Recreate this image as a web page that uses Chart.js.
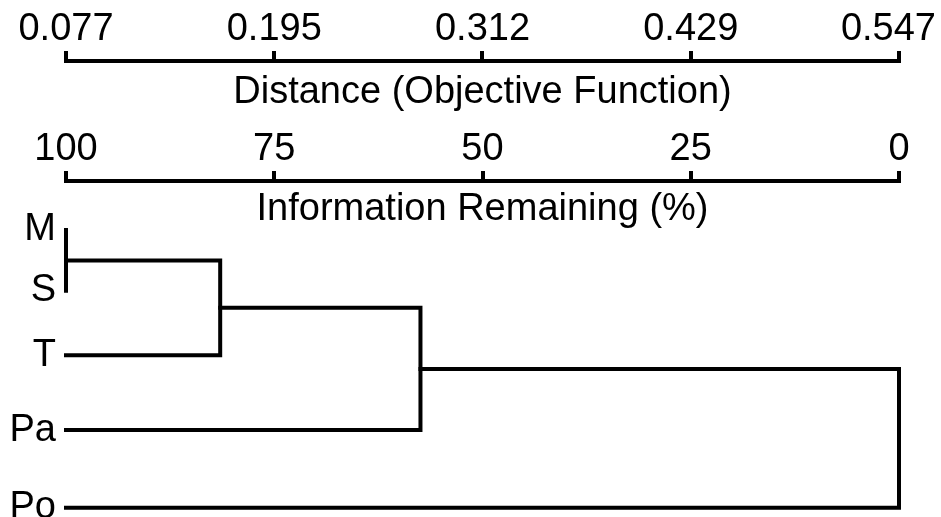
<!DOCTYPE html>
<html><head><meta charset="utf-8">
<script src="https://cdn.jsdelivr.net/npm/chart.js@4/dist/chart.umd.min.js"></script>
<style>html,body{margin:0;padding:0;background:#fff;} #wrap{width:941px;height:517px;position:relative;}</style>
</head><body><div id="wrap"><canvas id="c"></canvas></div>
<script>
// ---- data ----
const leafNames = ['M', 'S', 'T', 'Pa', 'Po'];
const leafPos = [0, 0.87, 1.79, 2.86, 3.97];          // leaf order positions (top -> bottom)
const mergeA = [0, 5, 6, 7];                            // cluster ids joined at each step
const mergeB = [1, 2, 3, 4];
const mergeDist = [0.077, 0.164, 0.277, 0.547];         // distance (objective function) of each join
const distTicks = [0.077, 0.1945, 0.312, 0.4295, 0.547];
const distTickLabels = ['0.077', '0.195', '0.312', '0.429', '0.547'];
const infoTicks = [100, 75, 50, 25, 0];
const infoTickLabels = ['100', '75', '50', '25', '0'];
const distTitle = 'Distance (Objective Function)';
const infoTitle = 'Information Remaining (%)';

const FONT = "'Liberation Sans', Arial, sans-serif";
const FSIZE = 38;
const distMin = distTicks[0], distMax = distTicks[distTicks.length - 1];

// build dendrogram brackets from the merge table
const clX = leafNames.map(() => distMin);
const clY = leafPos.slice();
const datasets = [];
mergeA.forEach((a, i) => {
  const b = mergeB[i], h = mergeDist[i];
  const pts = [{x: clX[a], y: clY[a]}, {x: h, y: clY[a]}, {x: h, y: clY[b]}, {x: clX[b], y: clY[b]}];
  const data = pts.filter((p, k) => k === 0 || p.x !== pts[k - 1].x || p.y !== pts[k - 1].y);
  clX.push(h); clY.push((clY[a] + clY[b]) / 2);
  datasets.push({
    data, showLine: true, borderColor: '#000', backgroundColor: '#000', borderWidth: 4,
    pointRadius: 0, pointHoverRadius: 0, tension: 0, clip: false,
    borderCapStyle: 'square', borderJoinStyle: 'miter', xAxisID: 'xDist', yAxisID: 'y'
  });
});

function fixFit(h, w) {
  return s => {
    s.paddingLeft = 0; s.paddingRight = 0; s.paddingTop = 0; s.paddingBottom = 0;
    if (h != null) s.height = h;
    if (w != null) s.width = w;
  };
}

const axisTitles = {
  id: 'axisTitles',
  afterDraw(chart) {
    const {ctx, chartArea} = chart;
    const cx = (chartArea.left + chartArea.right) / 2;
    ctx.save();
    ctx.font = FSIZE + 'px ' + FONT;
    ctx.fillStyle = '#000';
    ctx.textAlign = 'center';
    ctx.textBaseline = 'alphabetic';
    ctx.fillText(distTitle, cx, chart.scales.xDist.bottom + 42);
    ctx.fillText(infoTitle, cx, chart.scales.xInfo.bottom + 39);
    ctx.restore();
  }
};

const tickFont = {family: FONT, size: FSIZE, lineHeight: 1};
const axisGrid = {display: true, drawOnChartArea: false, drawTicks: true, tickLength: 10, lineWidth: 4, color: '#000'};
const axisBorder = {display: true, width: 4, color: '#000'};

new Chart(document.getElementById('c'), {
  type: 'scatter',
  data: {datasets},
  options: {
    responsive: true, maintainAspectRatio: false, animation: false,
    layout: {padding: {top: 0, right: 42, bottom: 5, left: 0}},
    plugins: {legend: {display: false}, tooltip: {enabled: false}},
    events: [],
    scales: {
      xDist: {
        type: 'linear', position: 'top', weight: 10, min: distMin, max: distMax,
        afterFit: fixFit(61),
        afterBuildTicks: s => { s.ticks = distTicks.map(v => ({value: v})); },
        ticks: {
          autoSkip: false, maxRotation: 0, minRotation: 0, padding: 2, color: '#000', font: tickFont,
          callback: (v, i) => i === distTickLabels.length - 1 ? distTickLabels[i] + '  ' : distTickLabels[i]
        },
        grid: axisGrid, border: axisBorder
      },
      xInfo: {
        type: 'linear', position: 'top', weight: 5, min: 0, max: 100, reverse: true,
        afterFit: fixFit(120),
        afterBuildTicks: s => { s.ticks = infoTicks.map(v => ({value: v})); },
        ticks: {
          autoSkip: false, maxRotation: 0, minRotation: 0, padding: 2, color: '#000', font: tickFont,
          callback: (v, i) => infoTickLabels[i]
        },
        grid: axisGrid, border: axisBorder
      },
      y: {
        type: 'linear', position: 'left', reverse: true, min: -0.7, max: 4.03,
        afterFit: fixFit(null, 66),
        afterBuildTicks: s => { s.ticks = leafPos.map(v => ({value: v})); },
        ticks: {
          autoSkip: false, padding: 10, color: '#000', font: tickFont,
          callback: (v, i) => leafNames[i]
        },
        grid: {display: false, drawTicks: false},
        border: {display: false}
      }
    }
  },
  plugins: [axisTitles]
});
</script>
</body></html>
